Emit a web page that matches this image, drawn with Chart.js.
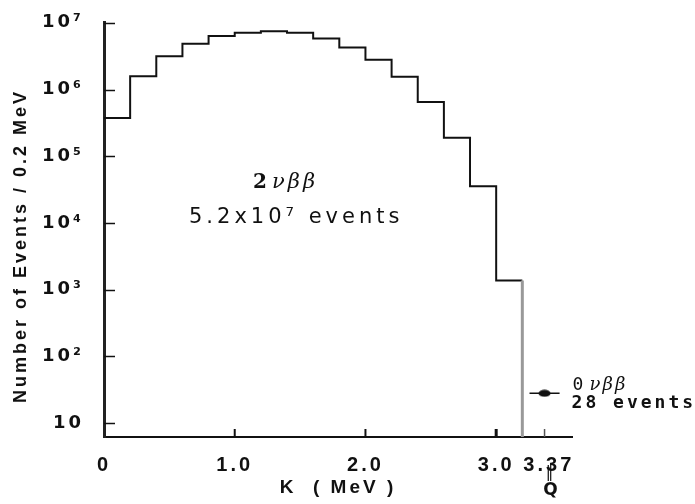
<!DOCTYPE html>
<html>
<head>
<meta charset="utf-8">
<script src="https://cdn.jsdelivr.net/npm/chart.js@4/dist/chart.umd.min.js"></script>
<style>
  html, body { margin: 0; padding: 0; background: #ffffff; }
  canvas { display: block; }
</style>
</head>
<body>
<canvas id="c" width="695" height="504" style="width:695px;height:504px"></canvas>
<script>
// ---- data ----
const binEdges = [0.0, 0.2, 0.4, 0.6, 0.8, 1.0, 1.2, 1.4, 1.6, 1.8, 2.0, 2.2, 2.4, 2.6, 2.8, 3.0, 3.2];
const binCounts = [3.75e5, 1.58e6, 3.16e6, 4.87e6, 6.34e6, 7.1e6, 7.5e6, 7.1e6, 5.8e6, 4.26e6, 2.8e6, 1.56e6, 6.5e5, 1.9e5, 3.56e4, 1.37e3];
const zeroNuK = 3.37;
const zeroNuCount = 28;
const zeroNuHalfWidth = 0.115;
const xTickValues = [0, 1, 2, 3, 3.37];
const xTickLabels = ['0', '1.0', '2.0', '3.0', ' 3.37'];
const yTickValues = [10, 100, 1e3, 1e4, 1e5, 1e6, 1e7];
const yTickLabels = ['10', '10²', '10³', '10⁴', '10⁵', '10⁶', '10⁷'];

// histogram outline: each point holds the level of the bin that starts at it
const histPoints = binCounts.map((v, i) => ({ x: binEdges[i], y: v }));
histPoints.push({ x: binEdges[binEdges.length - 1], y: binCounts[binCounts.length - 1] });
histPoints.push({ x: binEdges[binEdges.length - 1], y: 1 }); // drop to the axis
const lastSeg = histPoints.length - 1;

// ellipse marker for the 0vbb point
const dot = document.createElement('canvas');
dot.width = 13; dot.height = 8;
(() => { const g = dot.getContext('2d'); g.fillStyle = '#111'; g.beginPath(); g.ellipse(6.5, 4, 6, 3.6, 0, 0, Math.PI * 2); g.fill(); })();

const spacingPlugin = {
  id: 'spacing',
  beforeDraw(chart) { chart.ctx.letterSpacing = '3px'; }
};

const tickMarks = {
  id: 'tickMarks',
  afterDraw(chart) {
    const { ctx, chartArea: a, scales: { x, y } } = chart;
    ctx.save();
    ctx.strokeStyle = '#111';
    ctx.lineCap = 'butt';
    y.ticks.forEach(t => {
      const py = Math.round(y.getPixelForValue(t.value)) + 0.5;
      ctx.lineWidth = 1.5;
      ctx.beginPath(); ctx.moveTo(a.left, py); ctx.lineTo(a.left + 11, py); ctx.stroke();
    });
    x.ticks.forEach(t => {
      if (t.value === 0) return;
      const px = x.getPixelForValue(t.value);
      ctx.lineWidth = t.value === 3 ? 3 : (t.value === 3.37 ? 1.5 : 2);
      ctx.strokeStyle = t.value === 3.37 ? '#555' : '#111';
      ctx.beginPath(); ctx.moveTo(px, a.bottom); ctx.lineTo(px, a.bottom - 8); ctx.stroke();
    });
    ctx.restore();
  }
};

const annotations = {
  id: 'annotations',
  afterDraw(chart) {
    const { ctx, scales: { x, y } } = chart;
    ctx.save();
    ctx.fillStyle = '#111';
    ctx.textBaseline = 'middle';
    ctx.textAlign = 'left';
    // 2vbb label
    ctx.letterSpacing = '1px';
    ctx.font = 'bold 20px "DejaVu Serif"';
    ctx.fillText('2', 253, 183);
    ctx.letterSpacing = '3px';
    ctx.font = 'italic 21px "DejaVu Serif"';
    ctx.fillText('νββ', 272, 183);
    ctx.font = '21px "DejaVu Sans"';
    ctx.letterSpacing = '4px';
    ctx.fillText('5.2x10⁷ events', 189, 218);
    // 0vbb label
    const px = x.getPixelForValue(zeroNuK);
    const py = y.getPixelForValue(zeroNuCount);
    ctx.font = '18px "DejaVu Sans Mono"';
    ctx.letterSpacing = '2px';
    ctx.fillText('0', px + 28, py - 8);
    ctx.font = 'italic 18px "DejaVu Serif"';
    ctx.fillText('νββ', px + 45, py - 8);
    ctx.font = 'bold 18px "DejaVu Sans Mono"';
    ctx.letterSpacing = '3px';
    ctx.fillText('28 events', px + 27, py + 10);
    // Q under 3.37
    ctx.textAlign = 'center';
    ctx.letterSpacing = '0px';
    ctx.font = '15px "DejaVu Sans"';
    ctx.fillText('‖', px + 5, 473);
    ctx.font = 'bold 17px "DejaVu Sans"';
    ctx.fillText('Q', px + 6, 491);
    ctx.restore();
    ctx.letterSpacing = '0px';
  }
};

new Chart(document.getElementById('c'), {
  type: 'line',
  data: {
    datasets: [
      {
        data: histPoints,
        stepped: 'before',
        borderColor: '#111',
        borderWidth: 2,
        pointRadius: 0,
        fill: false,
        segment: { borderColor: ctx => ctx.p1DataIndex === lastSeg ? '#999' : '#111', borderWidth: ctx => ctx.p1DataIndex === lastSeg ? 3 : 2 }
      },
      {
        data: [{ x: zeroNuK - zeroNuHalfWidth, y: zeroNuCount }, { x: zeroNuK + zeroNuHalfWidth, y: zeroNuCount }],
        borderColor: '#111',
        borderWidth: 1.5,
        pointRadius: 0
      },
      {
        data: [{ x: zeroNuK, y: zeroNuCount }],
        showLine: false,
        pointStyle: dot,
        pointRadius: 6
      }
    ]
  },
  options: {
    responsive: false,
    animation: false,
    devicePixelRatio: 1,
    layout: { padding: { top: 19, right: 123, left: 0, bottom: 0 } },
    plugins: { legend: { display: false }, tooltip: { enabled: false } },
    scales: {
      x: {
        type: 'linear',
        min: 0,
        max: 3.58,
        grid: { display: false },
        border: { display: true, color: '#111', width: 2 },
        afterBuildTicks: s => { s.ticks = xTickValues.map(v => ({ value: v })); },
        afterFit: s => { s.height = 67; },
        ticks: {
          autoSkip: false,
          maxRotation: 0,
          padding: 8,
          color: '#111',
          font: { family: 'Liberation Sans', size: 20, weight: 'bold' },
          callback: (v, i) => xTickLabels[i]
        },
        title: {
          display: true,
          text: 'K  ( MeV )',
          color: '#111',
          font: { family: 'Liberation Sans', size: 19, weight: 'bold' },
          padding: { top: 0, bottom: 5 }
        }
      },
      y: {
        type: 'logarithmic',
        min: 6.2,
        max: 1e7,
        grid: { display: false },
        border: { display: true, color: '#222', width: 3 },
        afterBuildTicks: s => { s.ticks = yTickValues.map(v => ({ value: v })); },
        afterFit: s => { s.width = 104; },
        ticks: {
          autoSkip: false,
          padding: 12,
          color: '#111',
          font: { family: 'DejaVu Sans', size: 18, weight: 'bold' },
          callback: (v, i) => yTickLabels[i]
        },
        title: {
          display: true,
          text: 'Number of Events / 0.2 MeV    ',
          color: '#111',
          font: { family: 'Liberation Sans', size: 18, weight: 'bold' },
          padding: { top: 10, bottom: 0 }
        }
      }
    }
  },
  plugins: [spacingPlugin, tickMarks, annotations]
});
</script>
</body>
</html>
